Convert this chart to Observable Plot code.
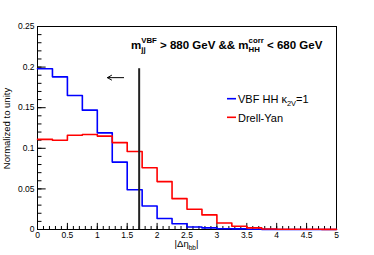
<!DOCTYPE html>
<html><head><meta charset="utf-8">
<script src="https://cdn.jsdelivr.net/npm/d3@7"></script>
<script src="https://cdn.jsdelivr.net/npm/@observablehq/plot@0.6"></script>
<style>body{margin:0;background:#fff;} svg{display:block}</style>
</head><body><div id="chart"></div>
<script>
const binLow = [0,0.25,0.5,0.75,1,1.25,1.5,1.75,2,2.25,2.5,2.75,3,3.25,3.5,3.75,4,4.25,4.5,4.75];
const binWidth = 0.25;
const vbfHH = [0.198,0.188,0.165,0.147,0.119,0.083,0.049,0.029,0.0135,0.007,0.003,0.002,0.001,0.0008,0.0004,0.0001,0,0,0,0];
const drellYan = [0.111,0.110,0.116,0.117,0.115,0.107,0.096,0.076,0.059,0.038,0.025,0.018,0.008,0.004,0.002,0.0006,0.0004,0.0003,0.0003,0.0002];
const cutValue = 1.7, cutTop = 0.198;
const arrowFrom = 1.44, arrowTo = 1.17, arrowY = 0.187;
const xTicks = [0,0.5,1,1.5,2,2.5,3,3.5,4,4.5,5];
const yTicks = [0,0.05,0.1,0.15,0.2,0.25];
const xMinor = d3.range(0, 5.0001, 0.1);
const yMinor = d3.range(0, 0.25001, 0.01);
const FONT = "'Liberation Sans', Helvetica, Arial, sans-serif";

function steps(vals){
  const pts = binLow.map((x,i)=>({x, y: vals[i]}));
  pts.push({x: binLow[binLow.length-1] + binWidth, y: vals[vals.length-1]});
  return pts;
}

const plot = Plot.plot({
  width: 374, height: 255,
  marginLeft: 37, marginRight: 38, marginTop: 26, marginBottom: 26,
  style: {fontFamily: FONT, background: "#fff"},
  x: {domain: [0,5]},
  y: {domain: [0,0.25]},
  marks: [
    Plot.axisX({ticks: xTicks, tickSize: 0, tickPadding: 2, fontSize: 8.5, tickFormat: d => String(d), label: null}),
    Plot.axisY({ticks: yTicks, tickSize: 0, tickPadding: 3, fontSize: 8.5, tickFormat: d => String(d), label: null}),
    Plot.ruleX(xMinor, {y1: 0, y2: 0.0037, stroke: "#000", strokeWidth: 1}),
    Plot.ruleX(xTicks, {y1: 0, y2: 0.0075, stroke: "#000", strokeWidth: 1}),
    Plot.ruleY(yMinor, {x1: 0, x2: 0.075, stroke: "#000", strokeWidth: 1}),
    Plot.ruleY(yTicks, {x1: 0, x2: 0.145, stroke: "#000", strokeWidth: 1}),
    Plot.frame({stroke: "#000", strokeWidth: 1}),
    Plot.line(steps(vbfHH), {x: "x", y: "y", curve: "step-after", stroke: "#0000ff", strokeWidth: 1.6}),
    Plot.line(steps(drellYan), {x: "x", y: "y", curve: "step-after", stroke: "#ff0000", strokeWidth: 1.6}),
    Plot.ruleX([cutValue], {y1: 0, y2: cutTop, stroke: "#222", strokeWidth: 2}),
    Plot.arrow([{x1: arrowFrom, x2: arrowTo, y: arrowY}], {x1: "x1", x2: "x2", y1: "y", y2: "y", stroke: "#000", strokeWidth: 1, headLength: 7})
  ]
});
document.getElementById("chart").appendChild(plot);

const svg = d3.select(plot);
const sx = plot.scale("x"), sy = plot.scale("y");

function rich(x, y, segs, base, weight){
  const g = svg.append("g").attr("font-family", FONT).attr("font-weight", weight).attr("fill", "#000").attr("text-anchor","start");
  let cx = x;
  for (const s of segs){
    if (s.t !== undefined){
      const t = g.append("text").attr("x", cx).attr("y", y).attr("font-size", base).style("white-space","pre").text(s.t);
      cx += t.node().getComputedTextLength();
    } else {
      let w = 0;
      const ss = base*0.68;
      if (s.sub){
        const t = g.append("text").attr("x", cx).attr("y", y + base*0.28).attr("font-size", ss).style("white-space","pre").text(s.sub);
        w = Math.max(w, t.node().getComputedTextLength());
      }
      if (s.sup){
        const t = g.append("text").attr("x", cx).attr("y", y - base*0.5).attr("font-size", ss).style("white-space","pre").text(s.sup);
        w = Math.max(w, t.node().getComputedTextLength());
      }
      cx += w;
    }
  }
  return cx;
}

// Title
rich(131, 49, [{t:"m"},{sub:"jj", sup:"VBF"},{t:" > 880 GeV && m"},{sub:"HH", sup:"corr"},{t:" < 680 GeV"}], 11.5, "bold");

// Legend
svg.append("line").attr("x1",227).attr("x2",236).attr("y1",98.7).attr("y2",98.7).attr("stroke","#0000ff").attr("stroke-width",1.6);
rich(238, 102.7, [{t:"VBF HH κ"},{sub:"2V"},{t:"=1"}], 11, "normal");
svg.append("line").attr("x1",227).attr("x2",236).attr("y1",117.3).attr("y2",117.3).attr("stroke","#ff0000").attr("stroke-width",1.6);
rich(238, 121.5, [{t:"Drell-Yan"}], 11, "normal");

// Axis titles
const xt = svg.append("text").attr("font-family",FONT).attr("font-size",9.5).attr("text-anchor","middle")
  .attr("x", (sx.apply(0)+sx.apply(5))/2).attr("y", 247);
xt.append("tspan").text("|Δη");
xt.append("tspan").attr("font-size",6.5).attr("dy",2.5).text("bb");
xt.append("tspan").attr("dy",-2.5).text("|");

svg.append("text").attr("font-family",FONT).attr("font-size",9.5).attr("text-anchor","middle")
  .attr("transform", `translate(9.5,${(sy.apply(0)+sy.apply(0.25))/2 + 1}) rotate(-90)`).text("Normalized to unity");
</script></body></html>
